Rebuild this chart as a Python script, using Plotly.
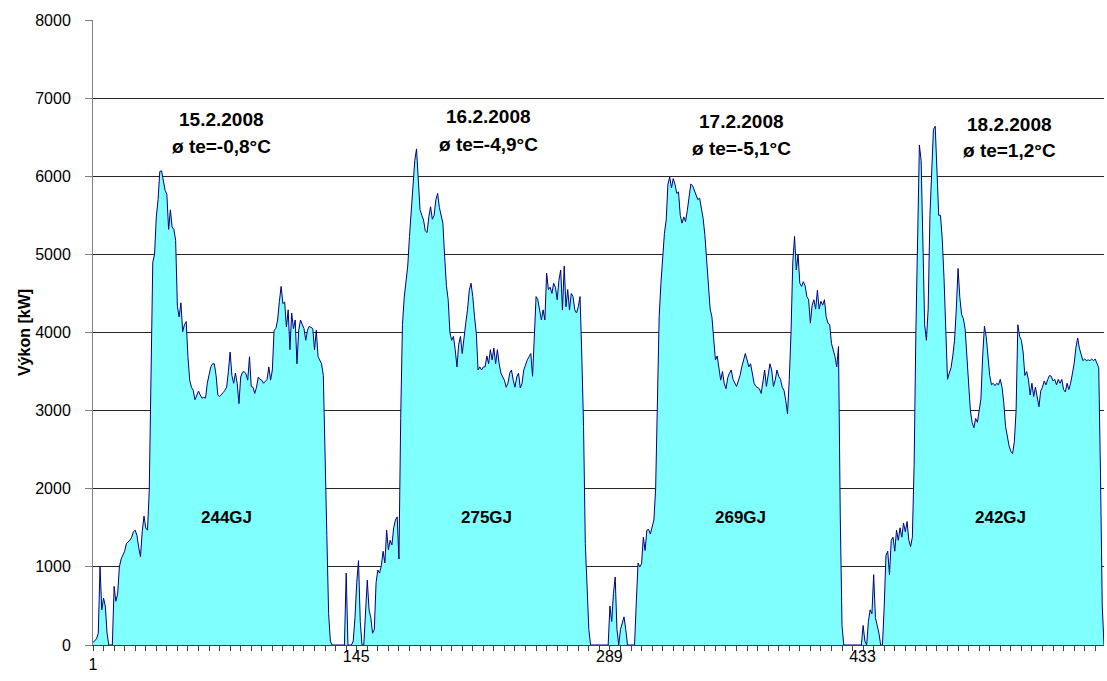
import plotly.graph_objects as go

# ---- data (kW, 10-minute samples, 144 per day) ----
day1 = [30, 60, 80, 150, 1000, 450, 600, 500, 150, 0,
        0, 0, 750, 560, 650, 1000, 1100, 1150, 1200, 1300,
        1320, 1340, 1380, 1450, 1470, 1400, 1250, 1130, 1450, 1650,
        1500, 1470, 1980, 3700, 4900, 5000, 5480, 5700, 6060, 6070,
        5950, 5820, 5770, 5320, 5570, 5350, 5320, 5180, 4330, 4200,
        4380, 4010, 4100, 4140, 3690, 3390, 3300, 3260, 3140, 3200,
        3250, 3200, 3160, 3170, 3160, 3350, 3480, 3560, 3600, 3600,
        3450, 3200, 3180, 3200, 3230, 3260, 3300, 3500, 3750, 3450,
        3350, 3480, 3350, 3090, 3430, 3490, 3500, 3470, 3390, 3690,
        3310, 3300, 3220, 3300, 3430, 3400, 3390, 3350, 3370, 3400,
        3560, 3390, 3520, 4030, 4050, 4160, 4400, 4590, 4370, 4390,
        4070, 4290, 3780, 4250, 4050, 4160, 3600, 4030, 4160, 4100,
        4050, 3900, 4030, 4080, 4070, 4050, 3780, 4030, 3690, 3650,
        3600, 3450, 2600, 1400, 400, 50, 0, 0, 0, 0,
        0, 0, 0, 0]

day2 = [920, 0, 0, 0, 50, 350, 800, 1080, 300, 0,
        0, 500, 830, 450, 350, 150, 200, 800, 960, 920,
        1020, 1200, 1050, 1470, 1220, 1340, 1280, 1500, 1600, 1640,
        1100, 2900, 4100, 4450, 4700, 4850, 5230, 5600, 5950, 6200,
        6350, 5900, 5570, 5500, 5440, 5300, 5280, 5480, 5610, 5450,
        5500, 5700, 5780, 5600, 5500, 5400, 4970, 4600, 4420, 4000,
        3900, 3950, 3780, 3560, 3850, 3950, 3730, 3950, 4120, 4290,
        4540, 4630, 4460, 4200, 3990, 3520, 3560, 3520, 3560, 3560,
        3700, 3600, 3780, 3650, 3800, 3600, 3780, 3600, 3480, 3430,
        3390, 3300, 3350, 3480, 3520, 3390, 3300, 3430, 3480, 3290,
        3350, 3520, 3600, 3650, 3690, 3730, 3440, 3900, 4460, 4420,
        4290, 4160, 4290, 4160, 4760, 4550, 4580, 4500, 4630, 4580,
        4420, 4670, 4800, 4290, 4850, 4330, 4550, 4290, 4500, 4460,
        4290, 4250, 4330, 4460, 3700, 2800, 1300, 700, 200, 0,
        0, 0, 0, 0]

day3 = [0, 0, 0, 0, 0, 0, 500, 300, 660, 870,
        200, 0, 200, 300, 360, 200, 0, 0, 0, 0,
        0, 550, 1050, 1000, 1040, 1380, 1210, 1470, 1480, 1420,
        1500, 1600, 2000, 3200, 4200, 4630, 5000, 5270, 5440, 5900,
        5990, 5850, 5970, 5900, 5780, 5800, 5500, 5400, 5480, 5420,
        5560, 5720, 5900, 5880, 5820, 5780, 5700, 5720, 5600, 5460,
        5250, 4950, 4600, 4300, 4200, 3900, 3650, 3700, 3520, 3390,
        3500, 3350, 3280, 3420, 3480, 3520, 3400, 3350, 3310, 3380,
        3450, 3560, 3650, 3730, 3650, 3560, 3600, 3480, 3350, 3310,
        3300, 3280, 3220, 3400, 3520, 3310, 3480, 3600, 3520, 3310,
        3390, 3520, 3440, 3400, 3300, 3260, 3130, 2960, 3400, 4000,
        4900, 5230, 4800, 5000, 4630, 4590, 4650, 4600, 4460, 4420,
        4120, 4350, 4420, 4300, 4540, 4300, 4400, 4350, 4420, 4200,
        4120, 4100, 3860, 3780, 3690, 3560, 3820, 1650, 250, 0,
        0, 0, 0, 0]

day4 = [0, 0, 0, 0, 0, 0, 250, 50, 0, 300,
        450, 400, 900, 350, 250, 150, 0, 0, 500, 1150,
        1200, 900, 1340, 1380, 1200, 1470, 1340, 1500, 1380, 1560,
        1450, 1580, 1340, 1260, 1380, 2300, 4000, 5300, 6400, 6200,
        4900, 4100, 3900, 4300, 5500, 6150, 6600, 6640, 6100, 5500,
        5500, 5200, 4700, 3900, 3400, 3480, 3550, 3700, 3900, 4300,
        4820, 4450, 4230, 4180, 4050, 3700, 3300, 3000, 2850, 2780,
        2900, 2850, 3000, 3150, 3700, 4080, 3950, 3650, 3450, 3330,
        3350, 3320, 3350, 3330, 3400, 3300, 3100, 2800, 2650, 2550,
        2480, 2450, 2600, 3000, 4100, 3950, 3900, 3750, 3450, 3500,
        3400, 3200, 3350, 3180, 3300, 3180, 3050, 3250, 3300, 3380,
        3330, 3400, 3450, 3440, 3380, 3400, 3330, 3400, 3350, 3400,
        3270, 3240, 3350, 3270, 3350, 3470, 3600, 3800, 3930, 3800,
        3720, 3640, 3660, 3640, 3650, 3640, 3660, 3640, 3660, 3600,
        3550, 2200, 500, 0]

dates = ["15.2.2008", "16.2.2008", "17.2.2008", "18.2.2008"]
temps = ["ø te=-0,8°C", "ø te=-4,9°C", "ø te=-5,1°C", "ø te=1,2°C"]
energy = ["244GJ", "275GJ", "269GJ", "242GJ"]
x_tick_labels = ["1", "145", "289", "433"]

values = day1 + day2 + day3 + day4
samples = list(range(1, len(values) + 1))
n = len(values)

FONT = "Liberation Sans, Arial, sans-serif"

fig = go.Figure()
fig.add_trace(go.Scatter(
    x=samples, y=values, mode="lines",
    line=dict(color="#000080", width=1),
    fill="tozeroy", fillcolor="#80FFFF",
    hoverinfo="skip", showlegend=False,
))
# empty companion trace so the second (label-only) x axis is drawn
fig.add_trace(go.Scatter(
    x=samples, y=[None] * n, xaxis="x2", mode="lines",
    hoverinfo="skip", showlegend=False,
))

# label placement (layout only)
date_x = [74, 226, 370, 522]
date_y = [6730, 6770, 6700, 6665]
temp_y = [6385, 6410, 6360, 6330]
gj_x = [77, 225, 369, 517]

for i in range(4):
    fig.add_annotation(x=date_x[i], y=date_y[i], text="<b>%s</b>" % dates[i],
                       showarrow=False, font=dict(family=FONT, size=19, color="black"))
    fig.add_annotation(x=date_x[i], y=temp_y[i], text="<b>%s</b>" % temps[i],
                       showarrow=False, font=dict(family=FONT, size=19, color="black"))
    fig.add_annotation(x=gj_x[i], y=1630, text="<b>%s</b>" % energy[i],
                       showarrow=False, font=dict(family=FONT, size=17, color="black"))

fig.update_layout(
    width=1107, height=681,
    margin=dict(l=93, r=3, t=20, b=36),
    paper_bgcolor="white", plot_bgcolor="white",
    font=dict(family=FONT, size=16, color="black"),
    xaxis=dict(
        range=[1, n], tickmode="array", tickvals=[1], ticktext=[x_tick_labels[0]],
        ticks="outside", ticklen=5, tickcolor="#404040",
        showline=True, linecolor="#404040", linewidth=1,
        showgrid=False, zeroline=False, automargin=False,
        minor=dict(tickmode="linear", tick0=1, dtick=6, ticks="outside",
                   ticklen=5, tickcolor="#404040", showgrid=False),
        tickfont=dict(family=FONT, size=16, color="black"),
    ),
    xaxis2=dict(
        range=[1, n], overlaying="x", anchor="y", side="bottom",
        tickmode="array", tickvals=[145, 289, 433], ticktext=x_tick_labels[1:],
        ticks="", showline=False, showgrid=False, zeroline=False,
        ticklabelshift=10, automargin=False,
        tickfont=dict(family=FONT, size=16, color="black"),
    ),
    yaxis=dict(
        range=[0, 8000], dtick=1000, tick0=0,
        ticks="outside", ticklen=7, tickcolor="#808080",
        showline=True, linecolor="#808080", linewidth=1,
        showgrid=True, gridcolor="#262626", gridwidth=1,
        zeroline=False, ticklabelstandoff=11, automargin=False,
        tickfont=dict(family=FONT, size=16, color="black"),
        title=dict(text="<b>Výkon [kW]</b>", standoff=0,
                   font=dict(family=FONT, size=16, color="black")),
    ),
)

fig.write_html(
    "out.html",
    config={"displayModeBar": False},
    post_script="document.body.style.margin='0';document.body.style.overflow='hidden';",
)
